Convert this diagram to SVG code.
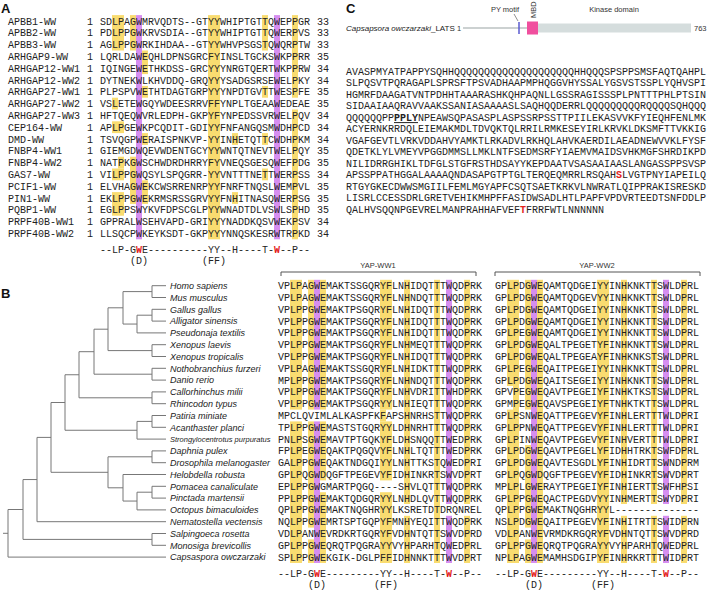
<svg xmlns="http://www.w3.org/2000/svg" width="709" height="590" viewBox="0 0 709 590">
<style>
.m{font-family:"Liberation Mono","Courier New",monospace;font-size:10px;fill:#222}
.sp{font-family:"Liberation Sans",Arial,sans-serif;font-style:italic;font-size:9px;fill:#222}
.lb{font-family:"Liberation Sans",Arial,sans-serif;font-weight:bold;font-size:13px;fill:#111}
.sm{font-family:"Liberation Sans",Arial,sans-serif;font-size:7.5px;fill:#333}
.y{fill:#f9dc70}
.p{fill:#d68ef0}
.r{fill:#e32119;font-weight:bold}
.tree{fill:none;stroke:#777;stroke-width:1}
.br{fill:none;stroke:#555;stroke-width:1}
</style>
<rect width="709" height="590" fill="#fff"/>

<g id="panelA">
<text class="lb" x="1" y="13">A</text>
<g id="A-highlights">
<rect class="y" x="112" y="15.1" width="12" height="35.4"/>
<rect class="y" x="112" y="97.7" width="6" height="11.8"/>
<rect class="y" x="112" y="121.3" width="12" height="11.8"/>
<rect class="y" x="118" y="156.7" width="6" height="11.8"/>
<rect class="y" x="112" y="168.5" width="12" height="11.8"/>
<rect class="y" x="112" y="192.1" width="12" height="23.6"/>
<rect class="y" x="130" y="15.1" width="6" height="35.4"/>
<rect class="y" x="130" y="156.7" width="6" height="47.2"/>
<rect class="p" x="136" y="15.1" width="6" height="224.2"/>
<rect class="y" x="142" y="50.5" width="6" height="23.6"/>
<rect class="y" x="142" y="85.9" width="6" height="11.8"/>
<rect class="y" x="142" y="133.1" width="6" height="11.8"/>
<rect class="y" x="142" y="180.3" width="6" height="23.6"/>
<rect class="y" x="208" y="15.1" width="12" height="224.2"/>
<rect class="y" x="232" y="133.1" width="6" height="11.8"/>
<rect class="y" x="232" y="192.1" width="6" height="11.8"/>
<rect class="y" x="262" y="15.1" width="6" height="35.4"/>
<rect class="y" x="262" y="85.9" width="6" height="11.8"/>
<rect class="y" x="262" y="133.1" width="6" height="11.8"/>
<rect class="y" x="262" y="168.5" width="6" height="11.8"/>
<rect class="p" x="274" y="15.1" width="6" height="224.2"/>
<rect class="y" x="292" y="15.1" width="6" height="82.6"/>
<rect class="y" x="292" y="109.5" width="6" height="129.8"/>
</g>
<text class="m" y="24.5"><tspan x="8" dy="0">APBB1-WW</tspan><tspan x="8" dy="11.8">APBB2-WW</tspan><tspan x="8" dy="11.8">APBB3-WW</tspan><tspan x="8" dy="11.8">ARHGAP9-WW</tspan><tspan x="8" dy="11.8">ARHGAP12-WW1</tspan><tspan x="8" dy="11.8">ARHGAP12-WW2</tspan><tspan x="8" dy="11.8">ARHGAP27-WW1</tspan><tspan x="8" dy="11.8">ARHGAP27-WW2</tspan><tspan x="8" dy="11.8">ARHGAP27-WW3</tspan><tspan x="8" dy="11.8">CEP164-WW</tspan><tspan x="8" dy="11.8">DMD-WW</tspan><tspan x="8" dy="11.8">FNBP4-WW1</tspan><tspan x="8" dy="11.8">FNBP4-WW2</tspan><tspan x="8" dy="11.8">GAS7-WW</tspan><tspan x="8" dy="11.8">PCIF1-WW</tspan><tspan x="8" dy="11.8">PIN1-WW</tspan><tspan x="8" dy="11.8">PQBP1-WW</tspan><tspan x="8" dy="11.8">PRPF40B-WW1</tspan><tspan x="8" dy="11.8">PRPF40B-WW2</tspan></text>
<text class="m" y="24.5"><tspan x="87" dy="0">1</tspan><tspan x="87" dy="11.8">1</tspan><tspan x="87" dy="11.8">1</tspan><tspan x="87" dy="11.8">1</tspan><tspan x="87" dy="11.8">1</tspan><tspan x="87" dy="11.8">1</tspan><tspan x="87" dy="11.8">1</tspan><tspan x="87" dy="11.8">1</tspan><tspan x="87" dy="11.8">1</tspan><tspan x="87" dy="11.8">1</tspan><tspan x="87" dy="11.8">1</tspan><tspan x="87" dy="11.8">1</tspan><tspan x="87" dy="11.8">1</tspan><tspan x="87" dy="11.8">1</tspan><tspan x="87" dy="11.8">1</tspan><tspan x="87" dy="11.8">1</tspan><tspan x="87" dy="11.8">1</tspan><tspan x="87" dy="11.8">1</tspan><tspan x="87" dy="11.8">1</tspan></text>
<text class="m" y="24.5"><tspan x="100" dy="0">SDLPAGWMRVQDTS--GTYYWHIPTGTTQWEPPGR</tspan><tspan x="100" dy="11.8">PDLPPGWKRVSDIA--GTYYWHIPTGTTQWERPVS</tspan><tspan x="100" dy="11.8">AGLPPGWRKIHDAA--GTYYWHVPSGSTQWQRPTW</tspan><tspan x="100" dy="11.8">LQRLDAWEQHLDPNSGRCFYINSLTGCKSWKPPRR</tspan><tspan x="100" dy="11.8">IQINGEWETHKDSS-GRCYYYNRGTQERTWKPPRW</tspan><tspan x="100" dy="11.8">DYTNEKWLKHVDDQ-GRQYYYSADGSRSEWELPKY</tspan><tspan x="100" dy="11.8">PLPSPVWETHTDAGTGRPYYYNPDTGVTTWESPFE</tspan><tspan x="100" dy="11.8">VSLETEWGQYWDEESRRVFFYNPLTGEAAWEDEAE</tspan><tspan x="100" dy="11.8">HFTQEQWVRLEDPH-GKPYFYNPEDSSVRWELPQV</tspan><tspan x="100" dy="11.8">APLPGEWKPCQDIT-GDIYYFNFANGQSMWDHPCD</tspan><tspan x="100" dy="11.8">TSVQGPWERAISPNKVP-YYINHETQTTCWDHPKM</tspan><tspan x="100" dy="11.8">GIEMGDWQEVWDENTGCYYYWNTQTNEVTWELPQY</tspan><tspan x="100" dy="11.8">NATPKGWSCHWDRDHRRYFYVNEQSGESQWEFPDG</tspan><tspan x="100" dy="11.8">VILPPGWQSYLSPQGRR-YYVNTTTNETTWERPSS</tspan><tspan x="100" dy="11.8">ELVHAGWEKCWSRRENRPYYFNRFTNQSLWEMPVL</tspan><tspan x="100" dy="11.8">EKLPPGWEKRMSRSSGRVYYFNHITNASQWERPSG</tspan><tspan x="100" dy="11.8">EGLPPSWYKVFDPSCGLPYYWNADTDLVSWLSPHD</tspan><tspan x="100" dy="11.8">GPPRALWSEHVAPD-GRIYYYNADDKQSVWEKPSV</tspan><tspan x="100" dy="11.8">LLSQCPWKEYKSDT-GKPYYYNNQSKESRWTRPKD</tspan></text>
<text class="m" y="24.5"><tspan x="317" dy="0">33</tspan><tspan x="317" dy="11.8">33</tspan><tspan x="317" dy="11.8">33</tspan><tspan x="317" dy="11.8">35</tspan><tspan x="317" dy="11.8">34</tspan><tspan x="317" dy="11.8">34</tspan><tspan x="317" dy="11.8">35</tspan><tspan x="317" dy="11.8">35</tspan><tspan x="317" dy="11.8">34</tspan><tspan x="317" dy="11.8">34</tspan><tspan x="317" dy="11.8">34</tspan><tspan x="317" dy="11.8">35</tspan><tspan x="317" dy="11.8">35</tspan><tspan x="317" dy="11.8">34</tspan><tspan x="317" dy="11.8">35</tspan><tspan x="317" dy="11.8">35</tspan><tspan x="317" dy="11.8">35</tspan><tspan x="317" dy="11.8">34</tspan><tspan x="317" dy="11.8">34</tspan></text>
<text class="m" x="100" y="252.5">--LP-G<tspan class="r">W</tspan>E----------YY--H----T-<tspan class="r">W</tspan>--P--</text>
<text class="m" x="130" y="263.5">(D)</text>
<text class="m" x="202" y="263.5">(FF)</text>
</g>

<g id="panelC">
<text class="lb" x="346" y="13">C</text>
<g id="lats-domain">
<text x="346" y="31" style="font-family:'Liberation Sans',Arial,sans-serif;font-size:8px;fill:#222"><tspan font-style="italic">Capsapsora owczarzaki</tspan>_LATS</text>
<text class="sm" x="457" y="31">1</text>
<line x1="463" y1="28" x2="691" y2="28" stroke="#9aa3a3" stroke-width="1.2"/>
<rect x="538" y="23.5" width="153" height="9" fill="#d5dddd"/>
<rect x="527" y="21.5" width="11" height="13" fill="#f04f9e"/>
<line x1="519" y1="22" x2="519" y2="34" stroke="#5a5ad0" stroke-width="1.5"/>
<line x1="514" y1="14" x2="518" y2="21" stroke="#444" stroke-width="0.6"/>
<text class="sm" x="505" y="12" text-anchor="middle">PY motif</text>
<text class="sm" transform="translate(535.5,18) rotate(-90)">MBD</text>
<text class="sm" x="614" y="12" text-anchor="middle">Kinase domain</text>
<text class="sm" x="694" y="31">763</text>
</g>
<text class="m" y="74.5"><tspan x="346" dy="0">AVASPMYATPAPPYSQHHQQQQQQQQQQQQQQQQQQQQHHQQQSPSPPSMSFAQTQAHPL</tspan><tspan x="346" dy="11.5">SLPQSVTPQRAGAPLSPRSFTPSVADHAAPMPHQGGVHYSSALYGSVSTSSPLYQHVSPI</tspan><tspan x="346" dy="11.5">HGMRFDAAGATVNTPDHHTAAARASHKQHPAQNLLGSSRAGISSSPLPNTTTPHLPTSIN</tspan><tspan x="346" dy="11.5">SIDAAIAAQRAVVAAKSSANIASAAAASLSAQHQQDERRLQQQQQQQQQRQQQQSQHQQQ</tspan><tspan x="346" dy="11.5">QQQQQQPP</tspan><tspan font-weight="bold">PPLY</tspan><tspan>NPEAWSQPASASPLASPSSRPSSTTPIILEKASVVKFYIEQHFENLMK</tspan><tspan x="346" dy="11.5">ACYERNKRRDQLEIEMAKMDLTDVQKTQLRRILRMKESEYIRLKRVKLDKSMFTTVKKIG</tspan><tspan x="346" dy="11.5">VGAFGEVTLVRKVDDAHVYAMKTLRKADVLRKHQLAHVKAERDILAEADNEWVVKLFYSF</tspan><tspan x="346" dy="11.5">QDETKLYLVMEYVPGGDMMSLLMKLNTFSEDMSRFYIAEMVMAIDSVHKMGFSHRDIKPD</tspan><tspan x="346" dy="11.5">NILIDRRGHIKLTDFGLSTGFRSTHDSAYYKEPDAATVSASAAIAASLANGASSPPSVSP</tspan><tspan x="346" dy="11.5">APSSPPATHGGALAAAAQNDASAPGTPTGLTERQEQMRRLRSQAH</tspan><tspan class="r">S</tspan><tspan>LVGTPNYIAPEILQ</tspan><tspan x="346" dy="11.5">RTGYGKECDWWSMGIILFEMLMGYAPFCSQTSAETKRKVLNWRATLQIPPRAKISRESKD</tspan><tspan x="346" dy="11.5">LISRLCCESSDRLGRETVEHIKMHPFFASIDWSADLHTLPAPFVPDVRTEEDTSNFDDLP</tspan><tspan x="346" dy="11.5">QALHVSQQNPGEVRELMANPRAHHAFVEF</tspan><tspan class="r">T</tspan><tspan>FRRFWTLNNNNNN</tspan></text>
<line x1="394" y1="122.6" x2="418" y2="122.6" stroke="#222" stroke-width="1"/>
</g>

<g id="panelB">
<text class="lb" x="1" y="298">B</text>
<g id="connectors">
<path class="tree" d="M166 285.7H152V297.5H166 M166 309.3H152V321.1H166 M152 315.2H137V332.9H166 M152 291.6H123V324.05H137 M166 344.7H152V356.5H166 M123 307.8H108V350.6H152 M166 368.3H152V380.1H166 M108 329.2H94V374.2H152 M166 391.9H152V403.7H166 M94 351.7H79V397.8H152 M166 415.5H152V427.3H166 M152 421.4H137V439.1H166 M79 374.75H65V430.25H137 M166 450.9H152V462.7H166 M166 486.3H152V498.1H166 M152 492.2H137V509.9H166 M166 474.5H123V501.05H137 M152 456.8H108V487.8H123 M65 402.5H51V472.3H108 M51 437.4H37V521.7H166 M166 533.5H152V545.3H166 M37 479.55H23V539.4H152 M23 509.5H8V557.1H166 M3 533.3H8"/>
</g>
<g id="species">
<text class="sp" y="288.9"><tspan x="170" dy="0">Homo sapiens</tspan><tspan x="170" dy="11.8">Mus musculus</tspan><tspan x="170" dy="11.8">Gallus gallus</tspan><tspan x="170" dy="11.8">Alligator sinensis</tspan><tspan x="170" dy="11.8">Pseudonaja textilis</tspan><tspan x="170" dy="11.8">Xenopus laevis</tspan><tspan x="170" dy="11.8">Xenopus tropicalis</tspan><tspan x="170" dy="11.8">Nothobranchius furzeri</tspan><tspan x="170" dy="11.8">Danio rerio</tspan><tspan x="170" dy="11.8">Callorhinchus milii</tspan><tspan x="170" dy="11.8">Rhincodon typus</tspan><tspan x="170" dy="11.8">Patiria miniate</tspan><tspan x="170" dy="11.8">Acanthaster planci</tspan><tspan x="170" dy="11.8" font-size="7.5">Strongylocentrotus purpuratus</tspan><tspan x="170" dy="11.8">Daphnia pulex</tspan><tspan x="170" dy="11.8">Drosophila melanogaster</tspan><tspan x="170" dy="11.8">Helobdella robusta</tspan><tspan x="170" dy="11.8">Pomacea canaliculate</tspan><tspan x="170" dy="11.8">Pinctada martensii</tspan><tspan x="170" dy="11.8">Octopus bimaculoides</tspan><tspan x="170" dy="11.8">Nematostella vectensis</tspan><tspan x="170" dy="11.8">Salpingoeca rosetta</tspan><tspan x="170" dy="11.8">Monosiga brevicollis</tspan><tspan x="170" dy="11.8">Capsaspora owczarzaki</tspan></text>
</g>
<g id="headers">
<text class="sm" x="378" y="268" text-anchor="middle" font-size="8">YAP-WW1</text>
<text class="sm" x="597" y="268" text-anchor="middle" font-size="8">YAP-WW2</text>
<path class="br" d="M281 276V272H476V276 M495 276V272H700V276"/>
</g>
<g id="B-highlights">
<rect class="y" x="290" y="279.8" width="12" height="129.8"/>
<rect class="y" x="290" y="421.4" width="12" height="141.6"/>
<rect class="y" x="308" y="279.8" width="6" height="129.8"/>
<rect class="y" x="308" y="421.4" width="6" height="106.2"/>
<rect class="y" x="308" y="539.4" width="6" height="23.6"/>
<rect class="p" x="314" y="279.8" width="6" height="129.8"/>
<rect class="p" x="314" y="421.4" width="6" height="141.6"/>
<rect class="y" x="320" y="279.8" width="6" height="129.8"/>
<rect class="y" x="320" y="421.4" width="6" height="59"/>
<rect class="y" x="320" y="492.2" width="6" height="70.8"/>
<rect class="y" x="380" y="279.8" width="12" height="129.8"/>
<rect class="y" x="380" y="409.6" width="6" height="11.8"/>
<rect class="y" x="380" y="421.4" width="12" height="59"/>
<rect class="y" x="380" y="492.2" width="12" height="70.8"/>
<rect class="y" x="404" y="279.8" width="6" height="224.2"/>
<rect class="y" x="404" y="515.8" width="6" height="47.2"/>
<rect class="y" x="434" y="279.8" width="6" height="283.2"/>
<rect class="p" x="446" y="279.8" width="6" height="224.2"/>
<rect class="p" x="446" y="515.8" width="6" height="47.2"/>
<rect class="y" x="464" y="279.8" width="6" height="224.2"/>
<rect class="y" x="464" y="515.8" width="6" height="47.2"/>
<rect class="y" x="507" y="279.8" width="6" height="106.2"/>
<rect class="y" x="507" y="409.6" width="6" height="153.4"/>
<rect class="y" x="513" y="279.8" width="6" height="283.2"/>
<rect class="y" x="525" y="279.8" width="6" height="129.8"/>
<rect class="y" x="525" y="445" width="6" height="82.6"/>
<rect class="y" x="525" y="539.4" width="6" height="23.6"/>
<rect class="p" x="531" y="279.8" width="6" height="283.2"/>
<rect class="y" x="537" y="279.8" width="6" height="283.2"/>
<rect class="y" x="597" y="279.8" width="12" height="283.2"/>
<rect class="y" x="621" y="279.8" width="6" height="224.2"/>
<rect class="y" x="621" y="515.8" width="6" height="47.2"/>
<rect class="y" x="651" y="279.8" width="6" height="224.2"/>
<rect class="y" x="651" y="515.8" width="6" height="47.2"/>
<rect class="p" x="663" y="279.8" width="6" height="224.2"/>
<rect class="p" x="663" y="515.8" width="6" height="47.2"/>
<rect class="y" x="681" y="279.8" width="6" height="224.2"/>
<rect class="y" x="681" y="515.8" width="6" height="47.2"/>
</g>
<text class="m" y="289.2"><tspan x="278" dy="0">VPLPAGWEMAKTSSGQRYFLNHIDQTTTWQDPRK</tspan><tspan x="278" dy="11.8">VPLPAGWEMAKTSSGQRYFLNHNDQTTTWQDPRK</tspan><tspan x="278" dy="11.8">VPLPPGWEMAKTPSGQRYFLNHIDQTTTWQDPRK</tspan><tspan x="278" dy="11.8">VPLPPGWEMAKTPSGQRYFLNHIDQTTTWQDPRK</tspan><tspan x="278" dy="11.8">VPLPPGWEMAKTPSGQRYFLNHIDQTTTWQDPRK</tspan><tspan x="278" dy="11.8">VPLPPGWEMAKTPSGQRYFLNHMEQTTTWQDPRK</tspan><tspan x="278" dy="11.8">VPLPPGWEMAKTPSGQRYFLNHIDQTTTWQDPRK</tspan><tspan x="278" dy="11.8">VPLPAGWEMAKTSSGQRYFLNHIDKTTTWQDPRK</tspan><tspan x="278" dy="11.8">MPLPPGWEMAKTPSGQRYFLNHNDQTTTWQDPRK</tspan><tspan x="278" dy="11.8">VPLPPGWEMAKTPSGQRYFLNHVDRITTWHDPRK</tspan><tspan x="278" dy="11.8">VPLPPGWEMAKTPSGQRYYLNHIEQTTTWQDPRK</tspan><tspan x="278" dy="11.8">MPCLQVIMLALKASPFKFAPSHNRHSTTWQDPRK</tspan><tspan x="278" dy="11.8">TPLPPGWEMASTSTGQRYYLDHNRHTTTWQDPRK</tspan><tspan x="278" dy="11.8">PNLPSGWEMAVTPTGQKYFLDHSNQQTTWEDPRK</tspan><tspan x="278" dy="11.8">FPLPEGWEQAKTPQGQVYFLNHLTQTTTWEDPRK</tspan><tspan x="278" dy="11.8">GALPPGWEQAKTNDGQIYYLNHTTKSTQWEDPRI</tspan><tspan x="278" dy="11.8">GPLPQGWDQGFTPEGEVYFIDHINKRTSWVDPRT</tspan><tspan x="278" dy="11.8">EPLPPGWGMARTPQGQ----SHVLQTTTWQDPRK</tspan><tspan x="278" dy="11.8">PPLPPGWEMAKTQDGQRYYLNHDLQVTTWQDPRK</tspan><tspan x="278" dy="11.8">QPLPPGWEMAKTNQGHRYYLKSRETDTDRQNREL</tspan><tspan x="278" dy="11.8">NQLPPGWEMRTSPTGQPYFMNHYEQITTWQDPRK</tspan><tspan x="278" dy="11.8">VDLPANWEVRDKRTGQRYFVDHNTQTTSWVDPRD</tspan><tspan x="278" dy="11.8">GPLPPGWEQRQTPQGRAYYVYHPARHTQWEDPRL</tspan><tspan x="278" dy="11.8">SPLPPGWEKGIK-DGLPFFIDHNNKTTTWVDPRT</tspan></text>
<text class="m" y="289.2"><tspan x="495" dy="0">GPLPDGWEQAMTQDGEIYYINHKNKTTSWLDPRL</tspan><tspan x="495" dy="11.8">GPLPDGWEQAMTQDGEVYYINHKNKTTSWLDPRL</tspan><tspan x="495" dy="11.8">GPLPDGWEQAMTQDGEIYYINHKNKTTSWLDPRL</tspan><tspan x="495" dy="11.8">GPLPDGWEQAMTQDGEIYYINHKNKTTSWLDPRL</tspan><tspan x="495" dy="11.8">GPLPEGWEQAMTQDGEIYYINHKNKTTSWLDPRL</tspan><tspan x="495" dy="11.8">GPLPDGWEQALTPEGETYFINHKNKTTSWLDPRL</tspan><tspan x="495" dy="11.8">GPLPDGWEQALTPEGEAYFINHKNKSTSWLDPRL</tspan><tspan x="495" dy="11.8">GPLPEGWEQAITPEGEIYYINHKNKTTSWLDPRL</tspan><tspan x="495" dy="11.8">GPLPDGWEQAITSEGEIYYINHKNKTTSWLDPRL</tspan><tspan x="495" dy="11.8">GPVPEGWEQAVTPEGEIYFINHKTKSTSWLDPRL</tspan><tspan x="495" dy="11.8">GPMPEGWEQAVSPEGEIYFTNHKTKTTSWLDPRL</tspan><tspan x="495" dy="11.8">GPLPSNWEQATTPEGEVYFINHLERTTTWLDPRI</tspan><tspan x="495" dy="11.8">GPLPPNWEQATTPEGEVYFINHLERTTTWLDPRI</tspan><tspan x="495" dy="11.8">GPLPINWEQAVTPEGEVYFINHVERTTTWLDPRI</tspan><tspan x="495" dy="11.8">GPLPDGWEQAVTPEGELYFIDHHTRKTSWFDPRL</tspan><tspan x="495" dy="11.8">GPLPDGWEQAVTESGDLYFINHIDRTTSWNDPRM</tspan><tspan x="495" dy="11.8">GPLPQGWDQGFTPEGEVYFIDHINKRTSWVDPRT</tspan><tspan x="495" dy="11.8">MPLPLGWERAYTPEGEIYFINHIERTTSWFHPSI</tspan><tspan x="495" dy="11.8">GPLPPGWEQACTPEGDVYYINHMERTTSWYDPRI</tspan><tspan x="495" dy="11.8">QPLPPGWEMAKTNQGHRYYL--------------</tspan><tspan x="495" dy="11.8">NSLPDGWEQAITPEGEVYFINHITRTTSWIDPRN</tspan><tspan x="495" dy="11.8">VDLPANWEVRMDKRGQRYFVDHNTQTTSWVDPRD</tspan><tspan x="495" dy="11.8">GPLPPGWEQRQTPQGRAYYVYHPARHTQWEDPRL</tspan><tspan x="495" dy="11.8">NPLPAGWEMAMHSDGIPYFINHRKRTTTWIDPRT</tspan></text>
<text class="m" x="278" y="576.5">--LP-G<tspan class="r">W</tspan>E---------YY--H----T-<tspan class="r">W</tspan>--P--</text>
<text class="m" x="495" y="576.5">--LP-G<tspan class="r">W</tspan>E---------YY--H----T-<tspan class="r">W</tspan>--P--</text>
<text class="m" x="308" y="587.5">(D)</text>
<text class="m" x="374" y="587.5">(FF)</text>
<text class="m" x="525" y="587.5">(D)</text>
<text class="m" x="591" y="587.5">(FF)</text>
</g>
</svg>
